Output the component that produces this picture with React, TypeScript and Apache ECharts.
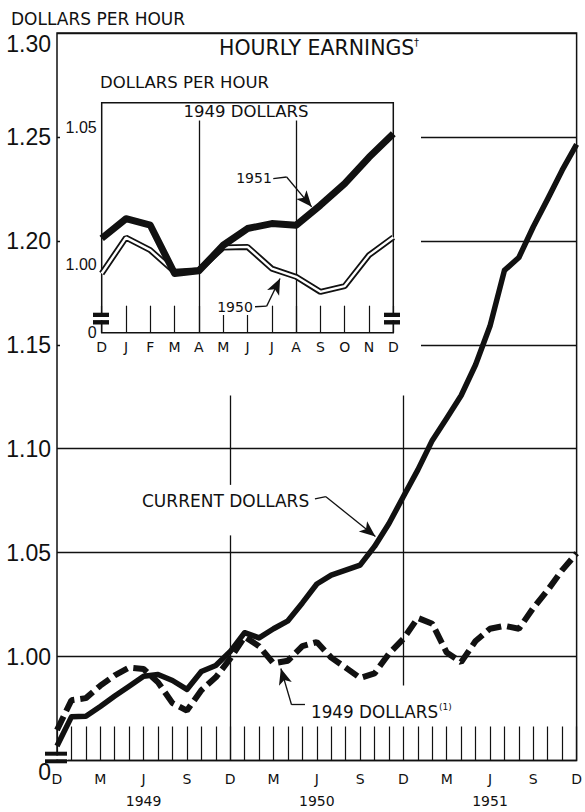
import React, { useEffect, useRef } from 'react';
import * as echarts from 'echarts';

// Main chart: monthly, Dec 1948 .. Dec 1951
const months = ['D', 'J', 'F', 'M', 'A', 'M', 'J', 'J', 'A', 'S', 'O', 'N',
  'D', 'J', 'F', 'M', 'A', 'M', 'J', 'J', 'A', 'S', 'O', 'N',
  'D', 'J', 'F', 'M', 'A', 'M', 'J', 'J', 'A', 'S', 'O', 'N', 'D'];
const yearLabels: Record<number, string> = { 6: '1949', 18: '1950', 30: '1951' };

const currentDollars = [0.957, 0.971, 0.9713, 0.976, 0.981, 0.9857, 0.9905, 0.9914, 0.9885, 0.9842, 0.9928, 0.9957,
  1.0024, 1.0115, 1.009, 1.0134, 1.0172, 1.0258, 1.0349, 1.0392, 1.0416, 1.044, 1.053, 1.064,
  1.077, 1.0898, 1.104, 1.1146, 1.1256, 1.1404, 1.159, 1.1858, 1.192, 1.2068, 1.2202, 1.234, 1.2464];

const dollars1949 = [0.9647, 0.979, 0.98, 0.986, 0.991, 0.9947, 0.994, 0.9876, 0.9776, 0.974, 0.9838, 0.99,
  0.999, 1.0095, 1.005, 0.9967, 0.998, 1.005, 1.007, 0.9995, 0.9947, 0.9897, 0.9919, 1.0014,
  1.0086, 1.0186, 1.0158, 1.0019, 0.9973, 1.0075, 1.0134, 1.0148, 1.0134, 1.0234, 1.032, 1.0416, 1.0497];

// Inset: 1949 dollars, Dec .. Dec
const insetMonths = ['D', 'J', 'F', 'M', 'A', 'M', 'J', 'J', 'A', 'S', 'O', 'N', 'D'];
const inset1951 = [1.0094, 1.0166, 1.0142, 0.9966, 0.9976, 1.0069, 1.013, 1.0148, 1.0142, 1.0215, 1.0294, 1.039, 1.0476];
const inset1950 = [0.9966, 1.0097, 1.0051, 0.9972, 0.9978, 1.0061, 1.0063, 0.9984, 0.9954, 0.9899, 0.992, 1.0033, 1.0098];

const INK = '#111';
const LETTER = 'DejaVu Sans';
const NUM = 'Liberation Sans';

export default function App() {
  const ref = useRef<HTMLDivElement>(null);
  useEffect(() => {
    const chart = echarts.init(ref.current!, null, { renderer: 'svg' });
    const pairs = (arr: number[]) => arr.map((v, i) => [i, v]);
    const seg = (a: number[], b: number[], arrow = false) => [
      { coord: a, symbol: 'none' },
      arrow ? { coord: b, symbol: 'arrow', symbolSize: [10, 16] } : { coord: b, symbol: 'none' },
    ];
    const option: any = {
      animation: false,
      backgroundColor: '#fff',
      grid: [
        { left: 57, right: 4, top: 33, bottom: 46, show: true, borderColor: INK, borderWidth: 1.5, backgroundColor: 'transparent', z: 0 },
        { left: 101.7, right: 191.7, top: 102.7, bottom: 479.3, show: true, borderColor: INK, borderWidth: 1.5, backgroundColor: '#fff', z: 3 },
      ],
      xAxis: [
        {
          type: 'value', gridIndex: 0, min: 0, max: 36, interval: 1, z: 0,
          axisLine: { show: false },
          splitLine: { show: false },
          axisTick: { show: true, inside: true, length: 34, lineStyle: { color: INK, width: 1.2 } },
          axisLabel: {
            margin: 7.5, fontSize: 14, lineHeight: 22, fontFamily: LETTER, color: INK,
            formatter: (v: number) => (v % 3 === 0 ? months[v] + (yearLabels[v] ? '\n' + yearLabels[v] : '') : ''),
          },
        },
        {
          type: 'value', gridIndex: 1, min: 0, max: 12, interval: 1, z: 3,
          axisLine: { show: false },
          splitLine: { show: false },
          axisTick: { show: true, inside: true, length: 27, lineStyle: { color: INK, width: 1.2 } },
          axisLabel: {
            margin: 6, fontSize: 14, lineHeight: 16, fontFamily: LETTER, color: INK,
            formatter: (v: number) => insetMonths[v] ?? '',
          },
        },
      ],
      yAxis: [
        {
          type: 'value', gridIndex: 0, min: 0.95, max: 1.3, interval: 0.05, z: 0,
          axisLine: { show: false }, axisTick: { show: false },
          splitLine: { show: true, lineStyle: { color: INK, width: 1.3 } },
          axisLabel: {
            margin: 6, fontSize: 23, lineHeight: 22, fontFamily: NUM, color: INK,
            formatter: (v: number) => {
              if (Math.abs(v - 0.95) < 1e-6) return '\n0';
              if (Math.abs(v - 1.3) < 1e-6) return '\n1.30';
              return v.toFixed(2);
            },
          },
        },
        {
          type: 'value', gridIndex: 1, min: 0.975, max: 1.0589, interval: 0.025, z: 3,
          axisLine: { show: false }, axisTick: { show: false }, splitLine: { show: false },
          axisLabel: {
            margin: 5, fontSize: 16, fontFamily: NUM, color: INK,
            formatter: (v: number) => {
              if (Math.abs(v - 0.975) < 1e-6) return '0';
              if (Math.abs(v - 1.0) < 1e-6) return '1.00';
              if (Math.abs(v - 1.05) < 1e-6) return '1.05';
              return '';
            },
          },
        },
      ],
      series: [
        {
          type: 'line', xAxisIndex: 0, yAxisIndex: 0, data: pairs(currentDollars), z: 2, silent: true,
          showSymbol: false, lineStyle: { opacity: 0 },
          markLine: {
            silent: true, symbol: ['none', 'none'], label: { show: false },
            lineStyle: { color: INK, width: 1.3, type: 'solid' },
            data: [
              seg([12, 0.95], [12, 1.0583]),
              seg([12, 1.0826], [12, 1.1256]),
              seg([24, 0.9861], [24, 1.1256]),
              seg([17.87, 1.0759], [18.63, 1.0769]),
              seg([18.63, 1.0769], [22.06, 1.0578], true),
              seg([17.18, 0.97684], [16.25, 0.97684]),
              seg([16.25, 0.97684], [15.51, 0.99427], true),
            ],
          },
        },
        {
          name: 'Current dollars', type: 'line', xAxisIndex: 0, yAxisIndex: 0, data: pairs(currentDollars), z: 3,
          showSymbol: false, lineStyle: { color: INK, width: 5.5, join: 'round' },
        },
        {
          name: '1949 dollars', type: 'line', xAxisIndex: 0, yAxisIndex: 0, data: pairs(dollars1949), z: 3,
          showSymbol: false, lineStyle: { color: INK, width: 6, type: [15, 6] },
        },
        {
          type: 'line', xAxisIndex: 1, yAxisIndex: 1, data: pairs(inset1950), z: 4, silent: true,
          showSymbol: false, lineStyle: { opacity: 0 },
          markLine: {
            silent: true, symbol: ['none', 'none'], label: { show: false },
            lineStyle: { color: INK, width: 1.3, type: 'solid' },
            data: [
              [{ yAxis: 1.0 }, { yAxis: 1.0 }].map((d) => ({ ...d, symbol: 'none' })),
              [{ yAxis: 1.05 }, { yAxis: 1.05 }].map((d) => ({ ...d, symbol: 'none' })),
              seg([4, 0.975], [4, 1.0524]),
              seg([8, 0.975], [8, 1.0524]),
            ],
          },
        },
        {
          name: '1950 outline', type: 'line', xAxisIndex: 1, yAxisIndex: 1, data: pairs(inset1950), z: 5,
          showSymbol: false, lineStyle: { color: INK, width: 6 },
        },
        {
          name: '1950', type: 'line', xAxisIndex: 1, yAxisIndex: 1, data: pairs(inset1950), z: 6,
          showSymbol: false, lineStyle: { color: '#fff', width: 2.4 },
        },
        {
          name: '1951', type: 'line', xAxisIndex: 1, yAxisIndex: 1, data: pairs(inset1951), z: 7,
          showSymbol: false, lineStyle: { color: INK, width: 7, join: 'round' },
        },
        {
          type: 'line', xAxisIndex: 1, yAxisIndex: 1, data: pairs(inset1951), z: 8, silent: true,
          showSymbol: false, lineStyle: { opacity: 0 },
          markLine: {
            silent: true, symbol: ['none', 'none'], label: { show: false },
            lineStyle: { color: INK, width: 1.3, type: 'solid' },
            data: [
              seg([7.06, 1.0312], [7.61, 1.0318]),
              seg([7.61, 1.0318], [8.64, 1.0209], true),
              seg([6.31, 0.98446], [6.79, 0.9847]),
              seg([6.79, 0.9847], [7.34, 0.9948], true),
            ],
          },
        },
      ],
      graphic: [
        { type: 'rect', z: 1, shape: { x: 60, y: 35, width: 361, height: 340 }, style: { fill: '#fff' } },
        // axis break marks
        { type: 'rect', z: 10, shape: { x: 44, y: 755.5, width: 24, height: 4 }, style: { fill: '#fff' } },
        { type: 'rect', z: 10, shape: { x: 45, y: 751.7, width: 22, height: 4 }, style: { fill: INK } },
        { type: 'rect', z: 10, shape: { x: 45, y: 759.3, width: 22, height: 4 }, style: { fill: INK } },
        { type: 'rect', z: 10, shape: { x: 92, y: 316.8, width: 18, height: 3.4 }, style: { fill: '#fff' } },
        { type: 'rect', z: 10, shape: { x: 93, y: 312.7, width: 16, height: 4.3 }, style: { fill: INK } },
        { type: 'rect', z: 10, shape: { x: 93, y: 320.1, width: 16, height: 4.4 }, style: { fill: INK } },
        { type: 'rect', z: 10, shape: { x: 383, y: 316.8, width: 18, height: 3.4 }, style: { fill: '#fff' } },
        { type: 'rect', z: 10, shape: { x: 384, y: 312.7, width: 16, height: 4.3 }, style: { fill: INK } },
        { type: 'rect', z: 10, shape: { x: 384, y: 320.1, width: 16, height: 4.4 }, style: { fill: INK } },
        // texts
        { type: 'text', z: 20, x: 11, y: 19, style: { text: 'DOLLARS PER HOUR', fontSize: 17, fontFamily: LETTER, fill: INK, align: 'left', verticalAlign: 'middle' } },
        { type: 'text', z: 20, x: 219, y: 48, style: { text: 'HOURLY EARNINGS', fontSize: 20.5, fontFamily: LETTER, fill: INK, align: 'left', verticalAlign: 'middle' } },
        { type: 'text', z: 20, x: 414, y: 42, style: { text: '†', fontSize: 10, fontFamily: LETTER, fill: INK, align: 'left', verticalAlign: 'middle' } },
        { type: 'text', z: 20, x: 100, y: 82, style: { text: 'DOLLARS PER HOUR', fontSize: 16.5, fontFamily: LETTER, fill: INK, align: 'left', verticalAlign: 'middle' } },
        { type: 'text', z: 20, x: 246, y: 111, style: { text: '1949 DOLLARS', fontSize: 16.5, fontFamily: LETTER, fill: INK, align: 'center', verticalAlign: 'middle' } },
        { type: 'text', z: 20, x: 254, y: 178, style: { text: '1951', fontSize: 14, fontFamily: LETTER, fill: INK, align: 'center', verticalAlign: 'middle' } },
        { type: 'text', z: 20, x: 235, y: 307, style: { text: '1950', fontSize: 14, fontFamily: LETTER, fill: INK, align: 'center', verticalAlign: 'middle', backgroundColor: '#fff', padding: [1, 2] } },
        { type: 'text', z: 20, x: 142, y: 501, style: { text: 'CURRENT DOLLARS', fontSize: 17, fontFamily: LETTER, fill: INK, align: 'left', verticalAlign: 'middle' } },
        { type: 'text', z: 20, x: 311, y: 712, style: { text: '1949 DOLLARS', fontSize: 16.8, fontFamily: LETTER, fill: INK, align: 'left', verticalAlign: 'middle' } },
        { type: 'text', z: 20, x: 439, y: 707, style: { text: '(1)', fontSize: 9, fontFamily: LETTER, fill: INK, align: 'left', verticalAlign: 'middle' } },
      ],
    };
    chart.setOption(option);
    return () => chart.dispose();
  }, []);
  return <div ref={ref} style={{ position: 'fixed', left: 0, top: 0, width: 585, height: 812, background: '#fff' }} />;
}
